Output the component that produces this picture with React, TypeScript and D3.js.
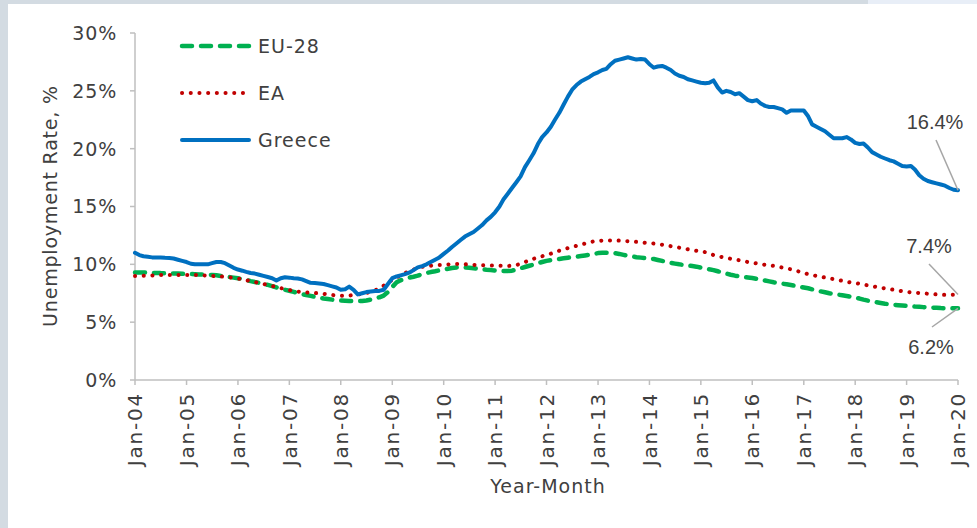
import React from "react";
import * as d3 from "d3";

// monthly values, Jan-04 .. Jan-20 (one row per year, last row is Jan-20)
const greece = [
  11.0, 10.8, 10.7, 10.65, 10.6, 10.6, 10.6, 10.57, 10.55, 10.5, 10.4, 10.3,
  10.2, 10.05, 10.0, 10.0, 10.0, 10.0, 10.1, 10.2, 10.2, 10.1, 9.9, 9.7,
  9.55, 9.45, 9.35, 9.25, 9.2, 9.1, 9.0, 8.9, 8.8, 8.6, 8.8, 8.88,
  8.85, 8.8, 8.78, 8.7, 8.55, 8.4, 8.38, 8.35, 8.3, 8.2, 8.1, 8.0,
  7.8, 7.85, 8.07, 7.8, 7.4, 7.5, 7.6, 7.65, 7.7, 7.7, 7.8, 8.3,
  8.8, 8.95, 9.05, 9.15, 9.28, 9.5, 9.74, 9.85, 10.0, 10.2, 10.4, 10.6,
  10.9, 11.2, 11.5, 11.8, 12.1, 12.4, 12.6, 12.8, 13.1, 13.4, 13.8, 14.1,
  14.5, 15.0, 15.6, 16.1, 16.6, 17.1, 17.6, 18.4, 19.0, 19.6, 20.4, 21.0,
  21.4, 21.9, 22.5, 23.1, 23.8, 24.5, 25.1, 25.5, 25.8, 26.0, 26.2, 26.45,
  26.6, 26.8, 26.9, 27.3, 27.6, 27.7, 27.8, 27.9, 27.8, 27.7, 27.75, 27.7,
  27.3, 27.0, 27.1, 27.15, 27.0, 26.8, 26.5, 26.3, 26.2, 26.0, 25.9, 25.8,
  25.7, 25.65, 25.7, 25.9, 25.3, 24.85, 25.0, 24.9, 24.7, 24.8, 24.5, 24.2,
  24.1, 24.2, 23.9, 23.7, 23.6, 23.6, 23.5, 23.4, 23.1, 23.3, 23.3, 23.3,
  23.3, 22.8, 22.1, 21.9, 21.7, 21.5, 21.2, 20.9, 20.9, 20.9, 21.0, 20.8,
  20.5, 20.4, 20.45, 20.1, 19.7, 19.5, 19.3, 19.15, 19.0, 18.9, 18.7, 18.5,
  18.45, 18.5, 18.2, 17.7, 17.4, 17.2, 17.1, 17.0, 16.9, 16.8, 16.6, 16.45,
  16.4,
];

const eu28 = [
  9.3, 9.3, 9.3, 9.28, 9.27, 9.25, 9.24, 9.22, 9.2, 9.2, 9.2, 9.18,
  9.17, 9.16, 9.15, 9.13, 9.12, 9.1, 9.08, 9.05, 9.0, 8.95, 8.9, 8.85,
  8.8, 8.72, 8.65, 8.55, 8.47, 8.4, 8.32, 8.22, 8.12, 8.0, 7.9, 7.8,
  7.72, 7.62, 7.52, 7.43, 7.35, 7.27, 7.2, 7.12, 7.05, 7.0, 6.95, 6.9,
  6.87, 6.85, 6.83, 6.82, 6.82, 6.83, 6.87, 6.95, 7.05, 7.15, 7.3, 7.6,
  8.05, 8.45, 8.62, 8.74, 8.85, 8.93, 9.02, 9.15, 9.25, 9.33, 9.4, 9.48,
  9.55, 9.62, 9.68, 9.72, 9.73, 9.72, 9.7, 9.66, 9.62, 9.57, 9.53, 9.5,
  9.46, 9.44, 9.42, 9.42, 9.45, 9.55, 9.66, 9.77, 9.88, 9.98, 10.1, 10.2,
  10.3, 10.36, 10.42, 10.47, 10.52, 10.57, 10.62, 10.67, 10.72, 10.77, 10.83, 10.9,
  10.97, 11.0, 11.0, 11.0, 10.97, 10.9, 10.82, 10.74, 10.68, 10.62, 10.58, 10.54,
  10.5, 10.46, 10.38, 10.3, 10.2, 10.12, 10.06, 10.0, 9.95, 9.9, 9.85, 9.8,
  9.72, 9.65, 9.57, 9.5, 9.4, 9.3, 9.2, 9.1, 9.02, 8.97, 8.92, 8.87,
  8.82, 8.75, 8.68, 8.6, 8.53, 8.45, 8.39, 8.33, 8.27, 8.21, 8.14, 8.07,
  8.0, 7.93, 7.84, 7.75, 7.66, 7.58, 7.5, 7.44, 7.38, 7.32, 7.26, 7.2,
  7.12, 7.04, 6.95, 6.86, 6.78, 6.72, 6.66, 6.6, 6.55, 6.5, 6.47, 6.44,
  6.41, 6.38, 6.35, 6.33, 6.3, 6.28, 6.26, 6.24, 6.22, 6.21, 6.2, 6.2,
  6.2,
];

const ea = [
  9.0, 9.0, 9.02, 9.03, 9.04, 9.06, 9.08, 9.08, 9.08, 9.08, 9.08, 9.08,
  9.08, 9.08, 9.08, 9.07, 9.05, 9.02, 9.0, 8.97, 8.95, 8.92, 8.88, 8.84,
  8.78, 8.7, 8.63, 8.55, 8.47, 8.38, 8.3, 8.21, 8.13, 8.04, 7.95, 7.85,
  7.77, 7.7, 7.65, 7.6, 7.57, 7.54, 7.52, 7.5, 7.45, 7.4, 7.35, 7.3,
  7.28, 7.28, 7.3, 7.35, 7.4, 7.45, 7.52, 7.62, 7.75, 7.9, 8.15, 8.45,
  8.65, 8.85, 9.05, 9.25, 9.42, 9.55, 9.68, 9.78, 9.83, 9.88, 9.91, 9.94,
  9.96, 9.99, 10.01, 10.03, 10.03, 10.01, 9.98, 9.95, 9.93, 9.92, 9.91, 9.9,
  9.89, 9.88, 9.87, 9.86, 9.88, 9.94, 10.05, 10.2, 10.35, 10.48, 10.6, 10.7,
  10.8, 10.92, 11.05, 11.18, 11.3, 11.4, 11.5, 11.6, 11.7, 11.8, 11.9, 11.98,
  12.02, 12.05, 12.07, 12.07, 12.07, 12.05, 12.03, 12.0, 11.97, 11.94, 11.9, 11.86,
  11.83, 11.8, 11.75, 11.7, 11.63, 11.57, 11.5, 11.44, 11.38, 11.3, 11.22, 11.17,
  11.15, 11.05, 10.93, 10.8, 10.7, 10.63, 10.55, 10.48, 10.42, 10.35, 10.28, 10.2,
  10.14, 10.08, 10.02, 9.96, 9.91, 9.86, 9.8, 9.72, 9.65, 9.57, 9.47, 9.37,
  9.25, 9.15, 9.07, 9.0, 8.93, 8.86, 8.79, 8.72, 8.65, 8.58, 8.5, 8.43,
  8.38, 8.32, 8.25, 8.18, 8.11, 8.04, 7.98, 7.92, 7.86, 7.8, 7.74, 7.68,
  7.62, 7.58, 7.55, 7.52, 7.49, 7.46, 7.43, 7.4, 7.37, 7.36, 7.36, 7.37,
  7.4,
];

const yTicks = [0, 5, 10, 15, 20, 25, 30];
const endLabels = ["16.4%", "7.4%", "6.2%"];

const months = d3.timeMonth.range(new Date(2004, 0, 1), new Date(2020, 0, 2));

const geo = "'DejaVu Sans', sans-serif";
const textColor = "#404040";

const App = () => {
  const width = 977;
  const height = 528;

  const x = d3.scaleTime().domain([new Date(2004, 0, 1), new Date(2020, 0, 1)]).range([135, 958]);
  const y = d3.scaleLinear().domain([0, 30]).range([380, 33]);
  const years = x.ticks(d3.timeYear.every(1));
  const fmt = d3.timeFormat("Jan-%y");

  const line = d3
    .line<number>()
    .x((d, i) => x(months[i]))
    .y((d) => y(d));

  const series = [
    { name: "EU-28", values: eu28, color: "#00b050", width: 4.5, dash: "10 9" },
    { name: "EA", values: ea, color: "#c00000", width: 4, dash: "0.1 8.6" },
    { name: "Greece", values: greece, color: "#0070c0", width: 4, dash: null },
  ];

  const last = months.length - 1;
  const lx = x(months[last]);
  // label centre, offset of leader start
  const annot = [
    { text: endLabels[0], v: greece[last], tx: 935, ty: 129, sx: 936, sy: 140 },
    { text: endLabels[1], v: ea[last], tx: 929, ty: 253, sx: 929, sy: 264 },
    { text: endLabels[2], v: eu28[last], tx: 931, ty: 354, sx: 932, sy: 327 },
  ];

  return (
    <svg width={width} height={height} style={{ position: "absolute", left: 0, top: 0 }}>
      <rect x={0} y={0} width={width} height={height} fill="#fff" />
      <rect x={0} y={0} width={868} height={4} fill="#d3dbe2" />
      <rect x={868} y={0} width={width - 868} height={4} fill="#e8eef7" />
      <rect x={0} y={0} width={8} height={height} fill="#d3dbe2" />

      {/* y axis */}
      <line x1={135} x2={135} y1={y(30)} y2={y(0)} stroke="#bfbfbf" strokeWidth={1.5} />
      {yTicks.map((t) => (
        <g key={t}>
          <line x1={130} x2={135} y1={y(t)} y2={y(t)} stroke="#bfbfbf" strokeWidth={1.5} />
          <text
            x={117}
            y={y(t)}
            dy="0.36em"
            textAnchor="end"
            fontFamily={geo}
            fontSize={19}
            letterSpacing={0.8}
            fill={textColor}
          >
            {t}%
          </text>
        </g>
      ))}

      {/* x axis */}
      <line x1={135} x2={958} y1={y(0)} y2={y(0)} stroke="#bfbfbf" strokeWidth={1.5} />
      {years.map((d, i) => (
        <g key={i}>
          <line x1={x(d)} x2={x(d)} y1={y(0)} y2={y(0) + 5} stroke="#bfbfbf" strokeWidth={1.5} />
          <text
            transform={`translate(${x(d)},392) rotate(-90)`}
            dy="0.36em"
            textAnchor="end"
            fontFamily={geo}
            fontSize={20}
            letterSpacing={1.8}
            fill={textColor}
          >
            {fmt(d)}
          </text>
        </g>
      ))}

      <text
        transform="translate(50,206) rotate(-90)"
        dy="0.36em"
        textAnchor="middle"
        fontFamily={geo}
        fontSize={19}
        letterSpacing={0.8}
        fill={textColor}
      >
        Unemployment Rate, %
      </text>
      <text x={548} y={493} textAnchor="middle" fontFamily={geo} fontSize={19} letterSpacing={1} fill={textColor}>
        Year-Month
      </text>

      {/* lines */}
      {series.map((s) => (
        <path
          key={s.name}
          d={line(s.values) || ""}
          fill="none"
          stroke={s.color}
          strokeWidth={s.width}
          strokeDasharray={s.dash || undefined}
          strokeLinecap="round"
          strokeLinejoin="round"
        />
      ))}

      {/* legend */}
      {series.map((s, i) => {
        const ly = 46 + i * 47;
        return (
          <g key={s.name}>
            <line
              x1={182}
              x2={249}
              y1={ly}
              y2={ly}
              stroke={s.color}
              strokeWidth={s.width}
              strokeDasharray={s.dash || undefined}
              strokeLinecap="round"
            />
            <text x={258} y={ly} dy="0.36em" fontFamily={geo} fontSize={19} letterSpacing={1} fill={textColor}>
              {s.name}
            </text>
          </g>
        );
      })}

      {/* end labels */}
      {annot.map((a) => (
        <g key={a.text}>
          <line x1={a.sx} y1={a.sy} x2={lx} y2={y(a.v)} stroke="#a6a6a6" strokeWidth={1.5} />
          <text
            x={a.tx}
            y={a.ty}
            textAnchor="middle"
            fontFamily="'Liberation Sans', Arial, sans-serif"
            fontSize={20}
            fill={textColor}
          >
            {a.text}
          </text>
        </g>
      ))}
    </svg>
  );
};

export default App;
